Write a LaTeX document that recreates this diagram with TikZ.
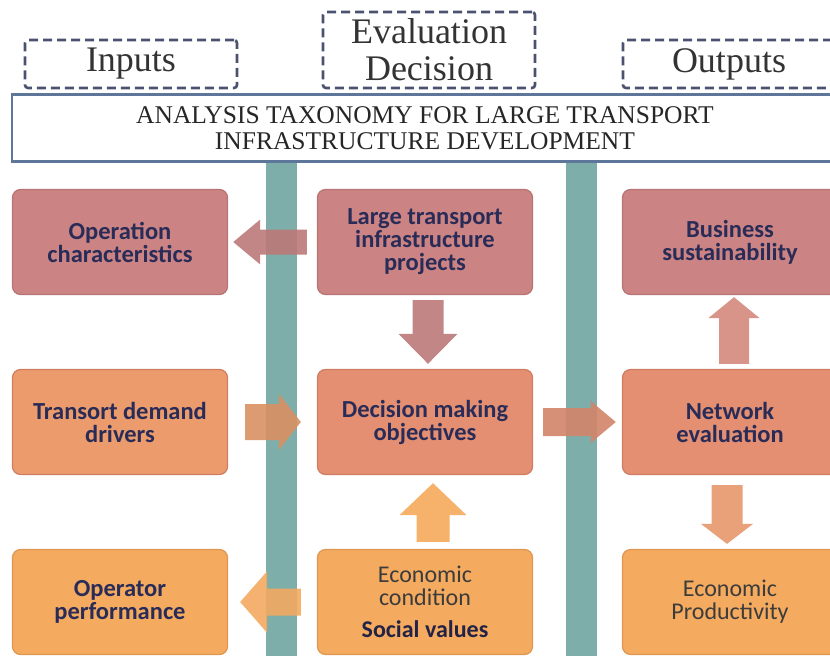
\documentclass[tikz,border=0pt]{standalone}
\usepackage{fontspec}
\setmainfont{Liberation Serif}
\newfontfamily\boxfont{Carlito}
\usetikzlibrary{arrows.meta,positioning}

\definecolor{barteal}{HTML}{7EAEA9}
\definecolor{navytxt}{HTML}{2A2C58}
\definecolor{greytxt}{HTML}{3C3C3C}
\definecolor{dashcol}{HTML}{4B5270}
\definecolor{framecol}{HTML}{5E7699}
% box fills, one per tint
\definecolor{rose}{HTML}{CB8383}
\definecolor{rosedk}{HTML}{B87474}
\definecolor{salmon}{HTML}{E48F72}
\definecolor{salmondk}{HTML}{CF7C62}
\definecolor{tangerine}{HTML}{EC9C6C}
\definecolor{peach}{HTML}{F4AA5F}
\definecolor{peachdk}{HTML}{DE9650}

\begin{document}
\begin{tikzpicture}[x=1pt,y=-1pt,node distance=305pt,
    box/.style={rectangle,rounded corners=8pt,minimum width=215pt,
      minimum height=105pt,align=center,line width=1.2pt,text=navytxt,
      font=\boxfont\bfseries\fontsize{24.5}{23}\selectfont},
    plain/.style={font=\boxfont\fontsize{24}{23}\selectfont,text=greytxt},
    header/.style={draw=dashcol,line width=2.6pt,dash pattern=on 9pt off 5pt,
      rounded corners=3pt,minimum width=212pt,align=center,
      font=\fontsize{36}{37}\selectfont,text=black!80},
    fat/.style={line width=#1}]

  \useasboundingbox (0,0) rectangle (830,656);

  % the two column separators
  \fill[barteal] (266,150) rectangle (297,656);
  \fill[barteal] (566,150) rectangle (597,656);

  % headings
  \node[header,minimum height=48pt] (IN) at (131,64) {Inputs};
  \node[header,minimum height=76pt] (ED) at (429,50) {Evaluation\\Decision};
  \node[header,minimum height=48pt] (OU) at (729,64) {Outputs};

  \node[draw=framecol,fill=white,line width=2.6pt,minimum width=826pt,
        minimum height=67pt,align=center,
        font=\fontsize{25.5}{26}\selectfont,text=black!85] (T) at (425,128)
        {ANALYSIS TAXONOMY FOR LARGE TRANSPORT\\INFRASTRUCTURE DEVELOPMENT};

  % first row
  \node[box,fill=rose,draw=rosedk] (OC) at (120,242) {Operation\\characteristics};
  \node[box,fill=rose,draw=rosedk] (LT) [right of=OC] {Large transport\\infrastructure\\projects};
  \node[box,fill=rose,draw=rosedk] (BS) [right of=LT] {Business\\sustainability};

  % second row
  \node[box,fill=tangerine,draw=salmondk] (TD) [node distance=180pt,below of=OC] {Transort demand\\drivers};
  \node[box,fill=salmon,draw=salmondk] (DM) [right of=TD] {Decision making\\objectives};
  \node[box,fill=salmon,draw=salmondk] (NE) [right of=DM] {Network\\evaluation};

  % third row
  \node[box,fill=peach,draw=peachdk] (OP) [node distance=180pt,below of=TD] {Operator\\performance};
  \node[box,fill=peach,draw=peachdk,plain] (EC) [right of=OP]
        {Economic\\condition\\[9pt]\textbf{\color{navytxt!80!black}Social values}};
  \node[box,fill=peach,draw=peachdk,plain] (EP) [right of=EC] {Economic\\Productivity};

  % block arrows
  \begin{scope}[transparency group,opacity=.9]
    \draw[fat=25pt,draw=rose!92!black,shorten <=10pt,shorten >=5pt,
          -{Triangle[length=27pt,width=43pt]}] (LT) -- (OC);
    \draw[fat=31pt,draw=rose!92!black,shorten <=5pt,shorten >=5pt,
          -{Triangle[length=30pt,width=57pt]}] ([xshift=3pt]LT.south) -- ([xshift=3pt]DM.north);
    \draw[fat=36pt,draw=tangerine!92!black,shorten <=17pt,shorten >=16pt,
          -{Triangle[length=22pt,width=55pt]}] (TD) -- (DM);
    \draw[fat=28pt,draw=salmon!92!black,shorten <=10pt,shorten >=6pt,
          -{Triangle[length=25pt,width=40pt]}] (DM) -- (NE);
    \draw[fat=30pt,draw=rose!60!salmon,shorten <=5pt,shorten >=2pt,
          -{Triangle[length=21pt,width=50pt]}] ([xshift=4pt]NE.north) -- ([xshift=4pt]BS.south);
    \draw[fat=31pt,draw=tangerine!97!black,shorten <=10pt,shorten >=5pt,
          -{Triangle[length=20pt,width=51pt]}] ([xshift=-3pt]NE.south) -- ([xshift=-3pt]EP.north);
    \draw[fat=33pt,draw=peach!95!orange,shorten <=7pt,shorten >=8pt,
          -{Triangle[length=32pt,width=65pt]}] ([xshift=8pt]EC.north) -- ([xshift=8pt]DM.south);
    \draw[fat=27pt,draw=peach!90!tangerine,shorten <=16pt,shorten >=12pt,
          -{Triangle[length=27pt,width=60pt]}] (EC) -- (OP);
  \end{scope}
\end{tikzpicture}
\end{document}
